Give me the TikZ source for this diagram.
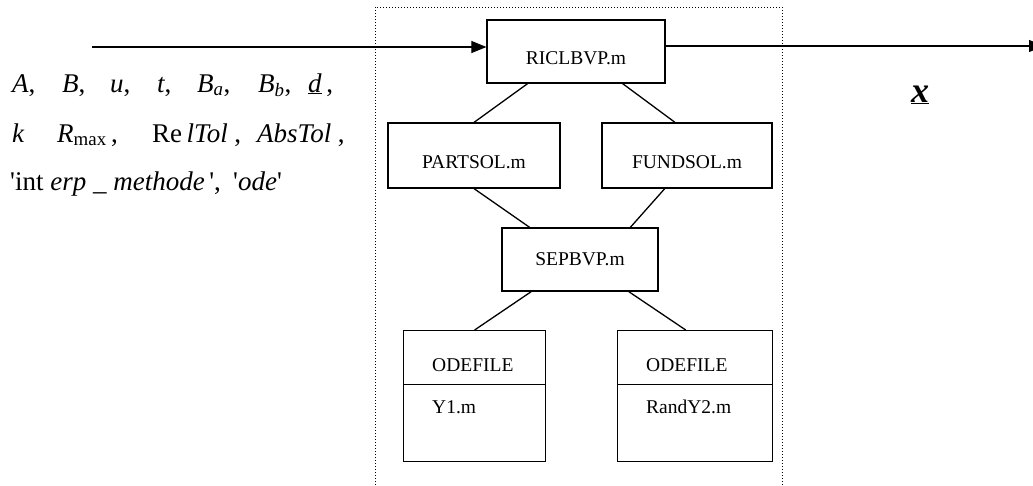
\documentclass[tikz,border=0pt]{standalone}
\usepackage{fontspec}
\setmainfont{Liberation Serif}
\usetikzlibrary{calc,arrows.meta}

\tikzset{
	mbox/.style={draw, line width=1.2pt, inner sep=0pt, font=\fontsize{19.5}{21}\selectfont},
	low/.style={text height=26pt, text depth=0pt},
	link/.style={line width=1.3pt},
	flow/.style={line width=1.1pt, -{Triangle[length=15pt,width=12pt]}},
	frame/.style={dotted, line width=1pt},
	argtxt/.style={font=\fontsize{27}{30}\selectfont, anchor=base west, inner sep=0pt},
	ftxt/.style={font=\fontsize{19.5}{21}\selectfont, anchor=west, inner sep=0pt},
}

\begin{document}
\begin{tikzpicture}[x=1pt,y=-1pt]
			\useasboundingbox (0,0) rectangle (1033,485);
			
			%block frame
			\draw[frame] (375,485) -- (375,7) -- (782,7) -- (782,485);
			
			%program files
			\node[mbox, low, minimum width=178, minimum height=63] (ricl) at (576,51.5) {RICLBVP.m};
			\node[mbox, low, minimum width=172, minimum height=65] (partsol) at (474,155.5) {PARTSOL.m};
			\node[mbox, low, minimum width=170, minimum height=65] (fundsol) at (687,155.5) {FUNDSOL.m};
			\node[mbox, minimum width=156, minimum height=63] (sepbvp) at (580,259.5) {SEPBVP.m};
			
			%ode files
			\foreach \n/\xa/\w/\f in {odeA/403/142/Y1.m, odeB/617/155/RandY2.m}{
				\node[mbox, minimum width=\w, minimum height=54, anchor=north west] (\n-head) at (\xa,330) {};
				\node[mbox, minimum width=\w, minimum height=77, anchor=north west] (\n-body) at (\xa,384) {};
				\node[ftxt] (\n-name) at ($(\n-head.west)+(29,8)$) {ODEFILE};
				\node[ftxt] (\n-file) at ($(\n-body.north west)+(29,23)$) {\f};
			}
			
			%links
			\draw[link] ($(ricl.south west)!.23!(ricl.south east)$) -- (partsol.north);
			\draw[link] ($(ricl.south west)!.76!(ricl.south east)$) -- ($(fundsol.north west)!.43!(fundsol.north east)$);
			\draw[link] (partsol.south) -- ($(sepbvp.north west)!.18!(sepbvp.north east)$);
			\draw[link] ($(fundsol.south west)!.37!(fundsol.south east)$) -- ($(sepbvp.north west)!.82!(sepbvp.north east)$);
			\draw[link] ($(sepbvp.south west)!.19!(sepbvp.south east)$) -- (odeA-head.north);
			\draw[link] ($(sepbvp.south west)!.81!(sepbvp.south east)$) -- ($(odeB-head.north west)!.44!(odeB-head.north east)$);
			
			%input and output
			\coordinate (in) at (92,47);
			\coordinate (out) at (1044,46);
			\draw[flow] (in) -- (ricl.west |- in);
			\draw[flow] (ricl.east |- out) -- (out);
			
			%arguments
			\foreach \xx/\tt [count=\i] in {12/{\textit{A},}, 62/{\textit{B},}, 110/{\textit{u},}, 157/{\textit{t},}, 197/{\textit{B}\textsubscript{\textit{a}},}, 258/{\textit{B}\textsubscript{\textit{b}},}, 308/{\underline{\textit{d}}\,,}}
				\node[argtxt] (la\i) at (\xx,92) {\tt};
			\foreach \xx/\tt [count=\i] in {12/{\textit{k}}, 57/{\textit{R}\textsubscript{max}\,,}, 152/{Re\,\textit{lTol} ,}, 257/{\textit{AbsTol} ,}}
				\node[argtxt] (lb\i) at (\xx,142) {\tt};
			\foreach \xx/\tt [count=\i] in {10/{\textquotesingle int \textit{erp \_ methode}\,\textquotesingle,}, 233/{\textquotesingle\textit{ode}\textquotesingle}}
				\node[argtxt] (lc\i) at (\xx,190) {\tt};
			
			%solution
			\node[font=\fontsize{36}{38}\selectfont\bfseries\itshape] (xsol) at (920,95) {\underline{x}};
			
\end{tikzpicture}
\end{document}
